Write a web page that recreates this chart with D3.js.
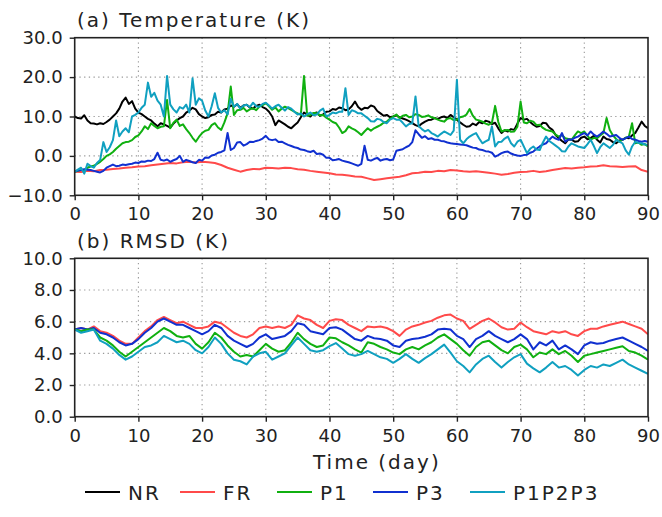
<!DOCTYPE html>
<html><head><meta charset="utf-8">
<script src="https://cdn.jsdelivr.net/npm/d3@7"></script>
<style>
html,body{margin:0;padding:0;background:#fff;}
svg text{font-family:"DejaVu Sans",sans-serif;fill:#222;}
</style></head>
<body><svg id="c" width="662" height="517"></svg>
<script>
// ---------------- DATA ----------------
const seriesNames = ["NR","FR","P1","P3","P1P2P3"];
const seriesColors = ["#000000","#ff4a4a","#10b010","#1030d0","#10a0c0"];
const xTicks = [0,10,20,30,40,50,60,70,80,90];
const yTicksTemp = [-10,0,10,20,30];
const yTicksRmsd = [0,2,4,6,8,10];

// Temperature, half-day steps (day 0 ... 90)
const tempNR = [10,9.6,9.5,10.3,9,8.3,8.2,8,8.3,8.1,8.6,9.2,10,10.8,12,13.8,14.8,13.2,13.9,12,
11,10.6,10,9.4,9,8.2,7.5,8.3,8,7.6,7.2,8.2,9,9.6,10,11,11.5,12.2,11.8,10.6,
10,9.6,9.8,10.4,10.5,11.2,11,11.8,12,12.8,12.5,13.1,12.2,12.8,13,12.3,12,12.7,13,12.4,
12,11.2,10,7.8,9,8.5,8,7.4,7,7.8,8.5,9.8,11,10.4,10,10.8,11,10.2,10.5,11.2,
11.3,11.9,11.7,12.3,12.1,11.6,11.8,12.6,13.8,12.4,11.7,12.2,12.1,12.8,12.5,11.4,10.8,10.2,10.4,9.8,
10,10.3,9.8,9.5,9.2,8.8,8.3,7.8,7.5,8.2,8.7,9.1,9.2,9.6,9.4,9.8,10,9.6,10.4,9.8,
9.2,8.5,7.9,7.4,7.5,8.2,7.8,8.6,8.3,8.9,8.7,8.1,8.4,7,5.8,6.5,6.2,6.8,6.6,8.2,
9.6,9.2,9.4,8.6,7.9,7.4,7.6,8.4,8.3,7.2,6.6,5.3,4.5,3.8,3.2,4.2,4.1,3.6,3.7,4.6,
4.9,4.2,4.5,5.1,4.1,3.4,4.9,4.3,4.1,3.5,3.2,3.9,4.1,4.6,4.5,5.2,5.8,7.2,8.7,7.6,7];

const tempP1 = [-4,-3.8,-3.5,-3.6,-3,-2.7,-2.5,-2,-1.5,-0.8,0,0.4,1,1.8,2.5,3.2,3.5,3.6,4,4.8,
5.2,6.2,7.5,6.8,8.3,7.6,7,7.4,7.5,14.2,7,8.4,9.2,7.6,8,6.8,5.8,4.6,3.6,4.8,
5.8,6.4,6.6,7.8,8.3,7.2,6.6,8.5,10.8,17.6,10.4,11.6,11.7,12.2,11.3,11.8,12.1,11.6,12.5,12.9,
13.4,12.6,11.7,12.3,11.3,12,12.5,12.1,11.7,11.2,10.8,10.4,20.3,10.2,10.4,10.9,10.8,10.3,10.4,9.7,
9.2,8.6,8.3,7.2,5.8,6.3,7.5,7,6.6,6,5.3,6.2,7,6.4,7,7.4,7.8,8.4,8.7,9.4,
10,10.5,9.6,10.2,10.4,9.8,10,10.6,10.4,9.9,10,10.3,9.8,9.6,9.2,8.9,8.7,9.4,9.6,9.1,
9.2,9.8,10,10.5,11.9,10.2,9.2,9,8.7,8.2,7.9,8.4,12.7,8.6,6.2,6.5,6.6,6.1,6.2,7.4,
13.8,8.5,8.3,8.9,8.7,7.8,7.9,7.1,6.6,6.4,6.2,5.4,4.9,5.3,4.5,4.3,4.1,5.2,6.2,5.8,
6.2,5.1,4.1,4.6,4.5,5.2,5.8,9.6,6.6,5.2,4.3,3.6,4.1,4.6,4.9,8.3,3.2,3.4,2.8,3,2.4];

const tempP3 = [-4,-3.7,-3.6,-3.4,-3.5,-3.6,-3.8,-4,-4.2,-3.8,-3,-2.6,-2.2,-2.6,-2.5,-2.2,-2.3,-2.1,-2,-1.7,
-1.8,-1.4,-1.5,-1.2,-1.3,-0.8,0.8,-1,-1.2,-0.9,-1.5,-1.1,-0.8,0,-1.5,-1,-1.3,-1.6,-1.8,-1,
-1.2,-0.4,-0.5,0.1,0.3,0.8,1,1.4,5.8,1.5,2,3.4,3.5,2.6,3,3.6,3.5,3.8,4,4.4,
5.1,4.2,4,4.2,3.5,3.6,3.2,2.8,2.5,2.2,2,1.6,1.5,1.2,1,1.3,0.5,0.6,0.3,-0.5,
-0.5,-1.1,-1,-0.8,-1.2,-1.4,-1.6,-1.9,-2.2,-2.5,-2,2.6,-1,-1.2,-0.8,-0.5,-1.2,-0.9,-0.8,-1.1,
-0.9,1.3,1.5,1.7,2.2,2.6,3.5,6.5,5.5,4.6,5,4.3,4.5,4.1,4.1,3.8,3.7,3.4,3.2,3.1,
3,2.9,2.8,2.7,2.4,2.1,2,1.6,1.5,1.2,1.1,0.8,-0.2,0.2,0.7,1,1.1,0.6,0.3,0.1,
0,0.2,0.3,0.8,1.1,1.8,2.4,2.9,3.2,4.1,4.9,4.4,4.1,5.8,3.6,4.2,4.1,4.6,4.9,5.4,
5.8,5.2,6.2,5.4,4.9,5.5,6.2,5.6,4.9,5.1,5.3,4.6,4.1,4.5,4.9,4.3,4.1,3.8,3.6,3.8,3.6];

const tempP1P2P3 = [-4,-3.5,-3,-4.5,-2,-2.6,-3,-1.8,-1,3.5,1,2.2,4,9,5,6.2,7,6,10,10.4,
11,12.2,13,18.6,15,16,14,13,10,20.3,13,11.8,11,12.4,12,13,11,19.7,13,14.6,
14,11.5,10,12.6,15.9,12.2,11,11.6,10.5,14.5,12.5,13.2,12,12.8,13,12.4,13.5,12.6,12.5,13.2,
13.5,12.8,12,12.6,13,12.2,11.5,12.4,12,11.2,10.5,10.8,10,10.6,11,10.3,10.5,11.5,12,10,
10.4,11,10.8,11.2,11.2,17.2,10.4,11.6,11.3,10.8,10.8,10.2,9.6,8.8,8.7,9.4,9.2,8.6,8.3,9.2,
9.6,9.2,9.2,8.4,7.5,8.1,8.3,15.1,7.5,6.8,6.2,6.6,5.8,5.4,4.9,5.6,6.2,5.8,5.3,6.4,
19.3,4.1,3.2,4.2,4.9,5.4,5.8,4.4,3.2,3.7,4.1,7.5,2.4,3.5,3.6,4.4,4.9,3.2,2.4,3.6,
4.1,2.4,0.7,1.8,2.4,1.6,1.5,3.4,4.9,3.8,3.2,2.6,2,1.2,1.1,2.4,3.2,2.8,2.4,2.2,
2,3,4.1,2.5,0.7,2.2,3.2,2.6,2,2.8,4.1,3.6,3.2,1.4,0.3,2.4,3.6,3.3,3.2,2.9,2.8];

// Temperature FR, daily (day 0 ... 90)
const tempFR = [-4,-4.1,-3.8,-3.9,-3.6,-3.5,-3.3,-3.2,-3,-2.9,-2.7,-2.6,-2.4,-2.2,-2,-1.8,-1.9,-1.6,-1.5,-1.7,
-1.5,-1.6,-1.8,-2.3,-3,-3.5,-4,-3.6,-3.3,-3.4,-3,-3.1,-3.2,-3,-3.1,-3.4,-3.5,-3.8,-4,-4.2,
-4.4,-4.7,-4.8,-5,-5.2,-5.3,-5.7,-6.1,-5.9,-5.7,-5.5,-5.3,-4.9,-4.4,-4.3,-4,-4.1,-3.8,-3.9,-3.6,
-3.7,-3.9,-4,-3.9,-4.1,-4.3,-4.5,-4.8,-4.6,-4.3,-4.1,-4,-3.8,-4.1,-3.9,-3.6,-3.3,-3.1,-3.2,-3,
-2.9,-2.7,-2.6,-2.4,-2.6,-2.7,-2.8,-2.7,-2.6,-3.6,-4];

// RMSD, daily (day 0 ... 90)
const rmsdFR = [5.5,5.6,5.5,5.7,5.4,5.3,5.1,4.8,4.6,4.6,5,5.4,5.7,6.1,6.3,6.1,5.9,6,5.8,5.6,
5.6,5.7,6,5.9,5.6,5.3,5.1,5,5.2,5.6,5.7,5.6,5.7,5.6,5.8,6.4,6.2,6.1,5.8,5.6,
6.05,6.15,6.1,5.8,5.6,5.4,5.7,5.65,5.7,5.6,5.4,5.1,5.5,5.7,5.8,5.95,6.05,6.25,6.4,6.45,
6.2,6.05,5.55,5.8,6.05,6.2,5.95,5.65,5.5,5.55,5.95,5.65,5.4,5.3,5.2,5.4,5.3,5.4,5.2,5.1,
5.4,5.55,5.55,5.7,5.8,5.9,6,5.85,5.7,5.55,5.2];
const rmsdP1 = [5.5,5.4,5.5,5.5,5,4.8,4.5,4.1,3.8,4.1,4.4,4.7,5,5.3,5.6,5.4,5.1,5,5.1,4.6,
4.3,4.7,5.3,5,4.5,4.1,3.8,3.9,3.8,4.2,4.6,4.3,4.1,4.2,4.7,5.3,4.9,4.6,4.4,4.5,
5,4.95,4.7,4.5,4.25,4.05,4.7,4.6,4.4,4.25,4.05,3.95,4.25,4.4,4.25,4.5,4.7,5,5.2,4.9,
4.6,4.2,3.85,4.4,4.7,4.8,4.5,4.2,4,4.4,4.55,4.25,3.75,4.05,3.95,4.25,3.95,4.15,3.85,3.45,
3.85,3.95,4.05,4.15,4.25,4.35,4.45,4.15,4.05,3.85,3.6];
const rmsdP3 = [5.5,5.6,5.5,5.6,5.3,5.2,5,4.7,4.5,4.6,4.9,5.3,5.6,6,6.2,6,5.8,5.8,5.6,5.4,
5.2,5.4,5.8,5.6,5.1,4.8,4.6,4.4,4.6,5,5.2,4.9,5,5.1,5.4,5.9,5.8,5.4,5.3,5.2,
5.6,5.65,5.5,5.2,4.9,4.8,5.1,4.95,4.9,4.8,4.5,4.4,4.8,4.9,4.95,5.05,5.2,5.5,5.55,5.5,
5.1,4.9,4.4,4.9,5.1,5.4,5.1,4.9,4.7,4.9,5.2,4.9,4.25,4.7,4.5,4.8,4.25,4.5,4.25,3.95,
4.5,4.7,4.6,4.65,4.8,4.9,5,4.8,4.6,4.4,4.15];
const rmsdP1P2P3 = [5.5,5.3,5.4,5.5,4.8,4.6,4.3,3.9,3.6,3.8,4.1,4.4,4.5,4.7,5.1,4.9,4.7,4.8,4.6,4.2,
4,4.4,5,4.6,4,3.6,3.5,3.3,3.8,4,4.1,3.6,3.8,4,4.5,5,4.6,4.2,4.1,4.2,
4.45,4.65,4.3,3.95,3.85,3.95,4.15,3.95,3.75,3.65,3.4,3.65,3.95,3.65,3.4,3.7,3.95,4.25,4.55,4.05,
3.5,3.2,2.8,3.3,3.65,3.85,3.45,3.1,3.45,3.75,3.95,3.35,3.05,2.8,3.1,3.45,3.1,3.2,2.95,2.6,
2.95,3.2,3.1,3.3,3.2,3.4,3.6,3.3,3.1,2.9,2.7];

// ---------------- DRAW ----------------
const svg = d3.select("#c");
const L = 74.7, R = 648;
const x = d3.scaleLinear().domain([0,90]).range([L,R]);
const fmt = d3.format(".1f");
const halfDay = (arr) => arr.map((v,i)=>({d:i*0.5,v}));
const fullDay = (arr) => arr.map((v,i)=>({d:i,v}));

function panel(top, bottom, yDomain, yTicks, title, series){
  const y = d3.scaleLinear().domain(yDomain).range([bottom, top]);
  const g = svg.append("g");
  // grid
  g.append("g").selectAll("line").data(xTicks.slice(1,-1)).join("line")
    .attr("x1",d=>x(d)).attr("x2",d=>x(d)).attr("y1",top).attr("y2",bottom)
    .attr("stroke","#999").attr("stroke-width",1.1).attr("stroke-dasharray","1.3,3.4");
  g.append("g").selectAll("line").data(yTicks.slice(1,-1)).join("line")
    .attr("y1",d=>y(d)).attr("y2",d=>y(d)).attr("x1",L).attr("x2",R)
    .attr("stroke","#999").attr("stroke-width",1.1).attr("stroke-dasharray","1.3,3.4");
  // lines
  const line = d3.line().x(p=>x(p.d)).y(p=>y(p.v));
  const clipId = "clip"+Math.round(top);
  svg.append("clipPath").attr("id",clipId).append("rect")
    .attr("x",L).attr("y",top).attr("width",R-L).attr("height",bottom-top);
  const lg = g.append("g").attr("clip-path",`url(#${clipId})`);
  series.forEach(s=>{
    lg.append("path").datum(s.data).attr("d",line).attr("fill","none")
      .attr("stroke",s.color).attr("stroke-width",2).attr("stroke-linejoin","round");
  });
  // axes
  const ax = d3.axisBottom(x).tickValues(xTicks).tickSize(5).tickPadding(4).tickFormat(d3.format("d"));
  const xa = g.append("g").attr("transform",`translate(0,${bottom})`).call(ax);
  const ay = d3.axisLeft(y).tickValues(yTicks).tickSize(5).tickPadding(7).tickFormat(fmt);
  const ya = g.append("g").attr("transform",`translate(${L},0)`).call(ay);
  [xa,ya].forEach(a=>{
    a.select(".domain").remove();
    a.selectAll(".tick line").attr("stroke","#222").attr("stroke-width",1.4);
    a.selectAll("text").attr("font-size",18).attr("fill","#222").style("font-family","DejaVu Sans");
  });
  xa.selectAll("text").attr("dy","0.9em");
  // frame
  g.append("rect").attr("x",L).attr("y",top).attr("width",R-L).attr("height",bottom-top)
    .attr("fill","none").attr("stroke","#222").attr("stroke-width",1.6);
  g.append("text").attr("x",77).attr("y",top-10.5).attr("font-size",20)
    .attr("letter-spacing",2).text(title);
}

panel(37.7,195.3,[-10,30],yTicksTemp,"(a) Temperature (K)",[
  {data:halfDay(tempNR),color:seriesColors[0]},
  {data:fullDay(tempFR),color:seriesColors[1]},
  {data:halfDay(tempP1),color:seriesColors[2]},
  {data:halfDay(tempP3),color:seriesColors[3]},
  {data:halfDay(tempP1P2P3),color:seriesColors[4]}
]);
panel(258.3,416.7,[0,10],yTicksRmsd,"(b) RMSD (K)",[
  {data:fullDay(rmsdFR),color:seriesColors[1]},
  {data:fullDay(rmsdP3),color:seriesColors[3]},
  {data:fullDay(rmsdP1),color:seriesColors[2]},
  {data:fullDay(rmsdP1P2P3),color:seriesColors[4]}
]);

svg.append("text").attr("x",313).attr("y",469).attr("font-size",20)
  .attr("letter-spacing",2).text("Time (day)");

// legend
const legX = [85,180,277,373,470];
const legY = 492;
const lg = svg.append("g");
seriesNames.forEach((n,i)=>{
  lg.append("line").attr("x1",legX[i]).attr("x2",legX[i]+35).attr("y1",legY).attr("y2",legY)
    .attr("stroke",seriesColors[i]).attr("stroke-width",2);
  lg.append("text").attr("x",legX[i]+43).attr("y",legY+7.5).attr("font-size",20)
    .attr("letter-spacing",2).text(n);
});
</script></body></html>
